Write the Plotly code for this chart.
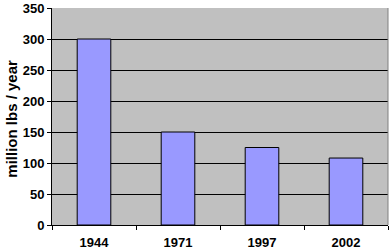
import plotly.graph_objects as go

years = ["1944", "1971", "1997", "2002"]
values = [300, 150, 125, 108]
y_ticks = [0, 50, 100, 150, 200, 250, 300, 350]

fig = go.Figure(go.Bar(
    x=years, y=values,
    marker=dict(color="#9999ff", line=dict(color="black", width=1)),
    width=0.4,
))

font = dict(family="Liberation Sans, Arial, sans-serif", size=13, color="black")

fig.update_layout(
    width=392, height=251,
    margin=dict(l=52, r=4, t=8, b=26),
    paper_bgcolor="white",
    plot_bgcolor="#c0c0c0",
    showlegend=False,
    font=font,
)
fig.update_xaxes(
    type="category",
    automargin=False,
    showline=True, linecolor="black", linewidth=1,
    ticks="outside", tickson="boundaries", ticklen=4, tickcolor="black",
    tickfont=dict(family="Liberation Sans, Arial, sans-serif", size=13, color="black", weight="bold"),
    ticklabelstandoff=5,
    showgrid=False,
)
fig.update_yaxes(
    range=[0, 350],
    tickvals=y_ticks,
    automargin=False,
    showline=True, linecolor="black", linewidth=1,
    ticks="outside", ticklen=4, tickcolor="black",
    tickfont=dict(family="Liberation Sans, Arial, sans-serif", size=13, color="black", weight="bold"),
    showgrid=True, gridcolor="black", gridwidth=1,
    zeroline=False,
)
fig.add_annotation(
    text="million lbs / year", textangle=-90,
    xref="paper", yref="paper", x=-40/336, y=0.49,
    xanchor="center", yanchor="middle", showarrow=False,
    font=dict(family="Liberation Sans, Arial, sans-serif", size=15, color="black", weight="bold"),
)
fig.add_shape(type="line", xref="paper", yref="paper", x0=1, x1=1, y0=0, y1=1,
              line=dict(color="#808080", width=1))

fig.write_html("out.html")
